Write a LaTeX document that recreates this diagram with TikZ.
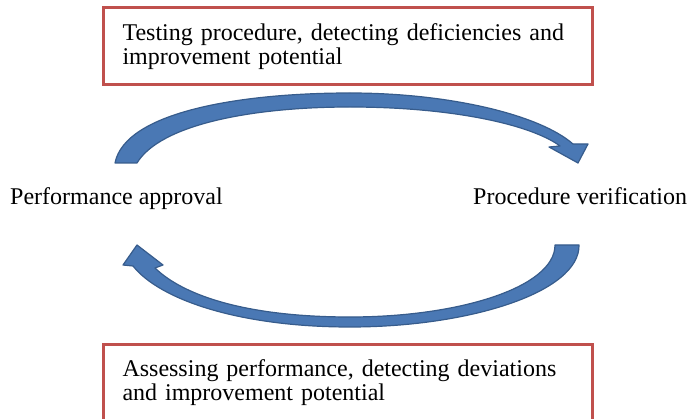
\documentclass[tikz,border=0pt]{standalone}
\usepackage{fontspec}
\setmainfont{Liberation Serif}
\usetikzlibrary{positioning}

\definecolor{boxred}{RGB}{192,80,77}
\definecolor{arrowblue}{RGB}{74,120,180}
\definecolor{arrowedge}{RGB}{55,92,140}

\tikzset{
  redbox/.style={draw=boxred, line width=3pt, fill=white, minimum width=489pt, minimum height=77pt,
    text width=450pt, align=left, inner sep=0pt, font=\fontsize{24}{24}\selectfont},
  sidelabel/.style={anchor=base west, inner sep=0pt, font=\fontsize{24}{24}\selectfont},
  bluearrow/.style={fill=arrowblue, draw=arrowedge, line width=1.2pt, line join=round}
}

\begin{document}
\begin{tikzpicture}[x=1pt,y=-1pt]
\clip (0,0) rectangle (691,419);
\node [redbox] (testing) at (347.5,46.5) {Testing procedure, detecting deficiencies and\\improvement potential};
\node [redbox] (assessing) at (347.5,383) {Assessing performance, detecting deviations\\and improvement potential};
\node [sidelabel] (approval) at (10,205) {Performance approval};
\node [sidelabel] (verification) at (473,205) {Procedure verification};

\draw [bluearrow] (115,163) .. controls (125,112) and (240,93) .. (350,93)
  .. controls (450,93) and (540,115) .. (573,144) -- (588,144) -- (578,163) -- (549,147) -- (560,146)
  .. controls (530,124) and (450,107) .. (350,107)
  .. controls (250,107) and (160,125) .. (137,163) -- cycle;

\draw [bluearrow] (579,245) .. controls (580,292) and (470,327) .. (350,327)
  .. controls (240,327) and (160,300) .. (133,266) -- (123,265) -- (137,245) -- (163,265) -- (155,268)
  .. controls (185,297) and (250,317) .. (350,317)
  .. controls (460,317) and (555,287) .. (555,245) -- cycle;
\end{tikzpicture}
\end{document}
